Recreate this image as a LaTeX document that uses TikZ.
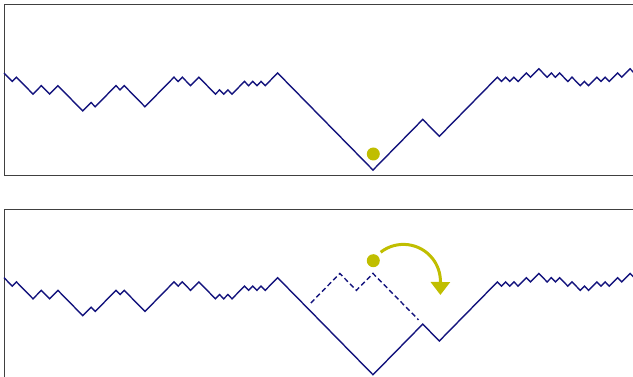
\documentclass[tikz,border=0pt]{standalone}
\usepackage{tikz}
\usepackage{xcolor}
\usetikzlibrary{arrows.meta}

\definecolor{walkblue}{RGB}{20,20,125}
\definecolor{ballyellow}{RGB}{192,190,0}

% vertices of the walk, in steps (n, height)
\newcommand{\walkline}{(0,0) -- (2,-2) -- (3,-1) -- (7,-5) -- (9,-3) -- (11,-5)
  -- (13,-3) -- (19,-9) -- (21,-7) -- (22,-8) -- (27,-3) -- (28,-4) -- (29,-3)
  -- (34,-8) -- (41,-1) -- (42,-2) -- (43,-1) -- (45,-3) -- (47,-1) -- (51,-5)
  -- (52,-4) -- (53,-5) -- (54,-4) -- (55,-5) -- (58,-2) -- (59,-3) -- (60,-2)
  -- (61,-3) -- (62,-2) -- (63,-3) -- (66,0) -- (89,-23) -- (101,-11)
  -- (105,-15) -- (119,-1) -- (120,-2) -- (121,-1) -- (122,-2) -- (123,-1)
  -- (124,-2) -- (126,0) -- (127,-1) -- (129,1) -- (131,-1) -- (132,0)
  -- (133,-1) -- (134,0) -- (136,-2) -- (137,-1) -- (139,-3) -- (140,-2)
  -- (141,-3) -- (143,-1) -- (144,-2) -- (145,-1) -- (146,-2) -- (148,0)
  -- (149,-1) -- (151,1) -- (152,0)}

\begin{document}
\begin{tikzpicture}[x=1pt, y=1pt,
    frame/.style={black!75, line width=0.8pt},
    walk/.style={walkblue, line width=1.4pt, line join=miter},
    ball/.style={circle, fill=ballyellow, inner sep=0pt, minimum size=13pt},
    flip/.style={ballyellow, line width=3pt, -{Triangle[width=19pt,length=13pt]}}]

        \useasboundingbox (0,0) rectangle (633,377);
        \clip (0,0) rectangle (633,377);

        % top panel

        \draw[frame] (4.7,202) rectangle (640,372.3);

        \begin{scope}[shift={(4,304)}, x=4.146pt, y=4.22pt]
            \draw[walk] \walkline;
        \end{scope}

        \node[ball] (balltop) at (373.3,223) {};

        % bottom panel

        \draw[frame] (4.7,-3) rectangle (640,167.7);

        \begin{scope}[shift={(4,99.3)}, x=4.146pt, y=4.22pt]
            \draw[walk] \walkline;
            \draw[walk, dash pattern=on 5pt off 3pt] (74,-6) -- (81,1) -- (85,-3) -- (89,1) -- (100,-10); % flipped part
        \end{scope}

        \node[ball] (ballbot) at (373.3,116.3) {};
        \coordinate (drop) at (440.4,82);

        \draw[flip] (ballbot) ++(49:11.2) arc[start angle=128, end angle=0, radius=37] -- (drop);

    \end{tikzpicture}
\end{document}
